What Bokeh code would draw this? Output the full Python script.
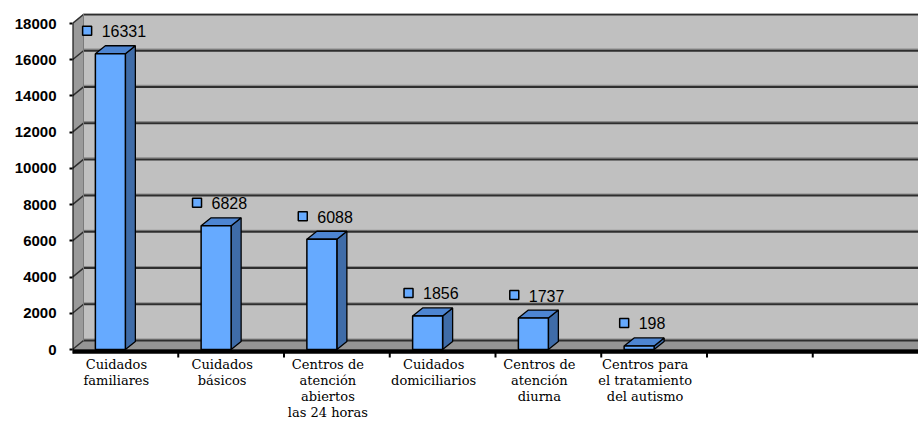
from bokeh.plotting import figure
from bokeh.models import Range1d, FixedTicker
from bokeh.core.properties import value
from bokeh.embed import file_html
from bokeh.resources import INLINE

# ---------------- data ----------------
label_lines = [
    ["Cuidados", "familiares"],
    ["Cuidados", "básicos"],
    ["Centros de", "atención", "abiertos", "las 24 horas"],
    ["Cuidados", "domiciliarios"],
    ["Centros de", "atención", "diurna"],
    ["Centros para", "el tratamiento", "del autismo"],
]
values = [16331, 6828, 6088, 1856, 1737, 198]
n_slots = 8
y_ticks = [0, 2000, 4000, 6000, 8000, 10000, 12000, 14000, 16000, 18000]
y_max = 18000

# ---------------- geometry (pixel -> data conversion) ----------------
FRAME_W = 846
PXX = n_slots / FRAME_W              # data units per px (x)
PXY = y_max / 326.0                  # data units per px (y)
y_start = -72 * PXY
y_end = 336 * PXY

WALL_DX, WALL_DY = 11 * PXX, 9 * PXY
BAR_DX, BAR_DY = 10 * PXX, 8 * PXY
BAR_W = 30 * PXX

SANS = "Liberation Sans"
SERIF = "DejaVu Serif"

p = figure(width=918, height=421, output_backend="svg", toolbar_location=None,
           x_range=Range1d(0, n_slots), y_range=Range1d(y_start, y_end),
           min_border_left=72, min_border_right=0, min_border_top=13, min_border_bottom=0)
p.outline_line_color = None
p.xgrid.visible = False
p.ygrid.visible = False
p.xaxis.visible = False
p.background_fill_color = "white"
p.border_fill_color = "white"

# walls
x_back0 = WALL_DX
p.patch([0, x_back0, x_back0, 0], [0, WALL_DY, y_end, y_end - WALL_DY],
        fill_color="#9a9a9a", line_color=None)
p.quad(left=x_back0, right=n_slots, bottom=WALL_DY, top=y_end,
       fill_color="#c0c0c0", line_color=None)
p.patch([0, n_slots, n_slots, x_back0], [0, 0, WALL_DY, WALL_DY],
        fill_color="#959595", line_color=None)

# gridlines on back wall + diagonal on left wall
for t in y_ticks:
    yb = t + WALL_DY
    p.line([x_back0, n_slots], [yb + 1.5 * PXY, yb + 1.5 * PXY], line_color="#8a8a8a", line_width=1.2)
    p.line([x_back0, n_slots], [yb, yb], line_color="#2e2e2e", line_width=2)
    p.line([0, x_back0], [t, yb], line_color="#2e2e2e", line_width=1.5)

# left wall corner edge
p.line([x_back0, x_back0], [WALL_DY, y_end], line_color="#7a7a7a", line_width=1)

# bars (3D)
cx = [i + 0.5 for i in range(len(values))]
fx0 = [c - BAR_W for c in cx]
side_xs = [[c, c + BAR_DX, c + BAR_DX, c] for c in cx]
side_ys = [[0, BAR_DY, v + BAR_DY, v] for v in values]
top_xs = [[c - BAR_W, c, c + BAR_DX, c - BAR_W + BAR_DX] for c in cx]
top_ys = [[v, v, v + BAR_DY, v + BAR_DY] for v in values]
p.patches(side_xs, side_ys, fill_color="#3f6ca8", line_color="black", line_width=1.3)
p.patches(top_xs, top_ys, fill_color="#4d85d2", line_color="black", line_width=1.3)
p.quad(left=fx0, right=cx, bottom=0, top=values,
       fill_color="#66aaff", line_color="black", line_width=1.5)

# axes lines
p.line([0, 0], [-4 * PXY, y_max], line_color="black", line_width=2)
p.line([0, n_slots], [-2 * PXY, -2 * PXY], line_color="black", line_width=4.5)
p.segment(x0=list(range(1, n_slots)), y0=[-2 * PXY] * (n_slots - 1),
          x1=list(range(1, n_slots)), y1=[-8 * PXY] * (n_slots - 1),
          line_color="black", line_width=2)

# y axis labels
ax = p.yaxis[0]
ax.ticker = FixedTicker(ticks=y_ticks)
ax.axis_line_color = None
ax.major_tick_out = 3
ax.major_tick_in = 0
ax.major_tick_line_width = 2
ax.minor_tick_line_color = None
ax.major_label_standoff = 13
ax.major_label_text_font = SANS
ax.major_label_text_font_style = "bold"
ax.major_label_text_font_size = "15px"
ax.major_label_text_color = "black"

# data labels (marker + number)
texts = [str(v) for v in values]
widths = [8.3 * len(s) for s in texts]
block_left = [c - 12.5 * PXX - (19 + w) / 2 * PXX for c, w in zip(cx, widths)]
mk_x = [b + 4.5 * PXX for b in block_left]
tx_x = [b + 19 * PXX for b in block_left]
lab_y = [v + 23 * PXY for v in values]
p.scatter(mk_x, lab_y, marker="square", size=9, fill_color="#66aaff",
          line_color="black", line_width=1.5)
p.text(tx_x, [y - 0.5 * PXY for y in lab_y], text=texts, text_font=value(SANS),
       text_font_size="16px", text_baseline="middle", text_align="left", text_color="black")

# category labels
lx, ly, lt = [], [], []
for i, lines in enumerate(label_lines):
    for j, s in enumerate(lines):
        lx.append(cx[i] - 9 * PXX)
        ly.append(-(15 + 16 * j) * PXY)
        lt.append(s)
p.text(lx, ly, text=lt, text_font=value(SERIF), text_font_size="13px",
       text_baseline="alphabetic", text_align="center", text_color="black")

open("out.html", "w").write(file_html(p, INLINE))
